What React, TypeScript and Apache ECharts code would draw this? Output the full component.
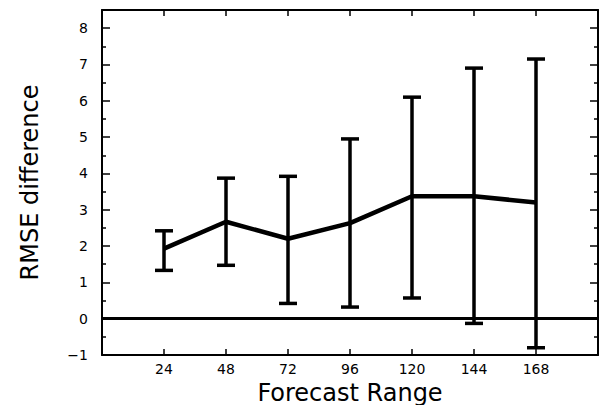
import React, { useEffect, useRef } from "react";
import * as echarts from "echarts";

const ranges = [24, 48, 72, 96, 120, 144, 168];
const meanDiff = [1.93, 2.67, 2.2, 2.63, 3.37, 3.37, 3.2];
const lowerErr = [1.33, 1.47, 0.42, 0.32, 0.57, -0.13, -0.8];
const upperErr = [2.42, 3.87, 3.92, 4.95, 6.1, 6.9, 7.15];
const yTickLabels = ["-1", "0", "1", "2", "3", "4", "5", "6", "7", "8"];

const FONT = "DejaVu Sans, Liberation Sans, Arial, sans-serif";

export default function App() {
  const ref = useRef<HTMLDivElement>(null);
  useEffect(() => {
    if (!ref.current) return;
    const chart = echarts.init(ref.current, undefined, { renderer: "svg" });
    const meanData = ranges.map((r, i) => [r, meanDiff[i]]);
    const errData = ranges.map((r, i) => [r, lowerErr[i], upperErr[i]]);
    const axisLine = { show: true, onZero: false, lineStyle: { color: "#000", width: 2 } };
    const xTick = { show: true, inside: true, length: 6, lineStyle: { color: "#000", width: 1.5 } };
    const yTick = { show: true, inside: true, length: 8, lineStyle: { color: "#000", width: 1.5 } };
    const yMinor = { show: true, splitNumber: 2, length: 4, lineStyle: { color: "#000", width: 1.5 } };
    chart.setOption({
      animation: false,
      backgroundColor: "#fff",
      grid: { left: 102, top: 10, right: 3, bottom: 50, containLabel: false, outerBoundsMode: "none" },
      xAxis: [
        {
          type: "value",
          min: 0,
          max: 192,
          interval: 24,
          position: "bottom",
          name: "Forecast Range",
          nameLocation: "middle",
          nameMoveOverlap: false,
          nameGap: 27,
          nameTextStyle: { fontFamily: FONT, fontSize: 24, lineHeight: 22, color: "#000" },
          axisLine,
          axisTick: xTick,
          axisLabel: {
            color: "#000",
            fontFamily: FONT,
            fontSize: 14,
            lineHeight: 14,
            margin: 7,
            formatter: (v: number) => (ranges.indexOf(v) >= 0 ? String(v) : ""),
          },
          splitLine: { show: false },
        },
        {
          type: "value",
          min: 0,
          max: 192,
          interval: 24,
          position: "top",
          axisLine,
          axisTick: xTick,
          axisLabel: { show: false },
          splitLine: { show: false },
        },
      ],
      yAxis: [
        {
          type: "value",
          min: -1,
          max: 8.5,
          interval: 1,
          position: "left",
          name: "RMSE difference",
          nameLocation: "middle",
          nameMoveOverlap: false,
          nameRotate: 90,
          nameGap: 60,
          nameTextStyle: { fontFamily: FONT, fontSize: 24, color: "#000" },
          axisLine,
          axisTick: yTick,
          minorTick: yMinor,
          axisLabel: {
            color: "#000",
            fontFamily: FONT,
            fontSize: 14,
            margin: 14,
            formatter: (v: number) => {
              const s = String(v);
              return yTickLabels.indexOf(s) >= 0 ? s.replace("-", "\u2212") : "";
            },
          },
          splitLine: { show: false },
        },
        {
          type: "value",
          min: -1,
          max: 8.5,
          interval: 1,
          position: "right",
          axisLine,
          axisTick: yTick,
          minorTick: yMinor,
          axisLabel: { show: false },
          splitLine: { show: false },
        },
      ],
      series: [
        {
          type: "custom",
          xAxisIndex: 0,
          yAxisIndex: 0,
          data: errData,
          z: 3,
          renderItem: (params: any, api: any) => {
            const x = api.value(0);
            const lo = api.coord([x, api.value(1)]);
            const hi = api.coord([x, api.value(2)]);
            const hw = 9;
            const style = { stroke: "#000", lineWidth: 3.5 };
            return {
              type: "group",
              children: [
                { type: "line", shape: { x1: lo[0], y1: lo[1], x2: hi[0], y2: hi[1] }, style },
                { type: "line", shape: { x1: lo[0] - hw, y1: lo[1], x2: lo[0] + hw, y2: lo[1] }, style },
                { type: "line", shape: { x1: hi[0] - hw, y1: hi[1], x2: hi[0] + hw, y2: hi[1] }, style },
              ],
            };
          },
        },
        {
          type: "line",
          xAxisIndex: 0,
          yAxisIndex: 0,
          data: meanData,
          showSymbol: false,
          symbol: "none",
          lineStyle: { color: "#000", width: 4.5 },
          z: 4,
          markLine: {
            silent: true,
            symbol: ["none", "none"],
            label: { show: false },
            lineStyle: { color: "#000", width: 3, type: "solid" },
            data: [{ yAxis: 0 }],
          },
        },
      ],
    });
    return () => chart.dispose();
  }, []);
  return <div ref={ref} style={{ width: 601, height: 405, position: "absolute", left: 0, top: 0 }} />;
}
